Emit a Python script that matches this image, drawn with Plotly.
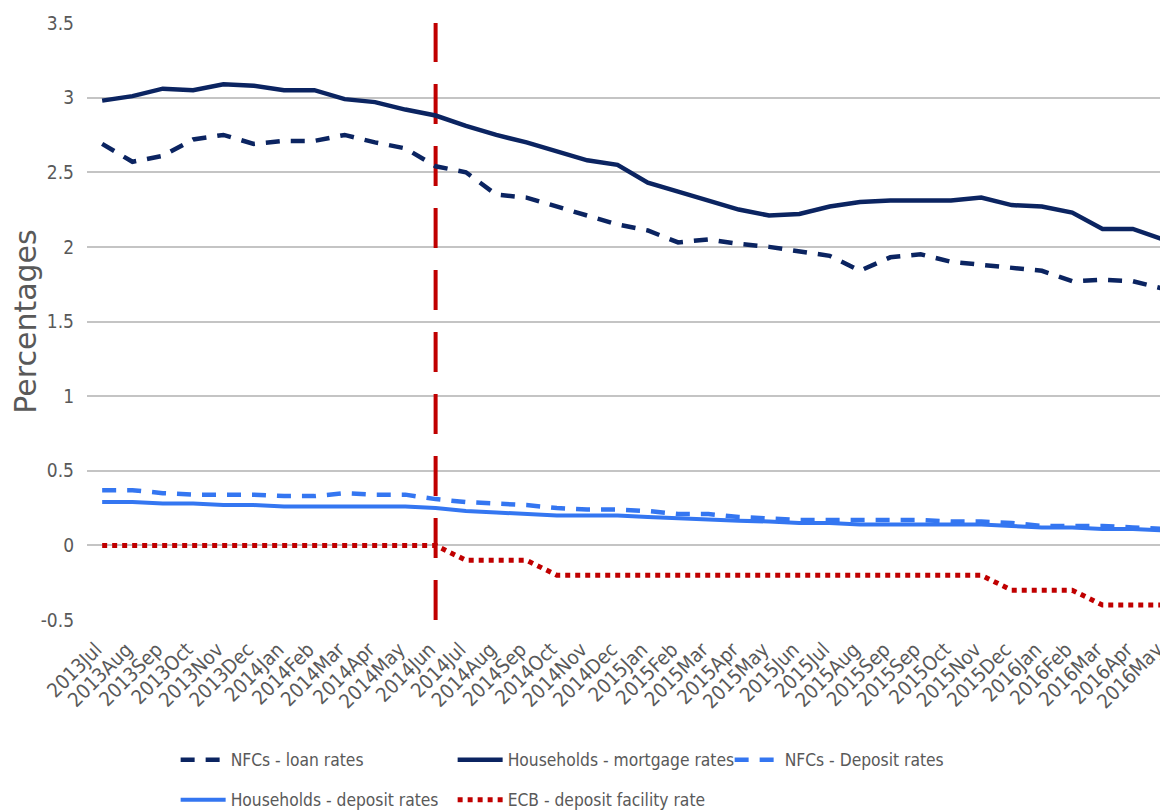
import plotly.graph_objects as go

months = ["2013Jul", "2013Aug", "2013Sep", "2013Oct", "2013Nov", "2013Dec",
          "2014Jan", "2014Feb", "2014Mar", "2014Apr", "2014May", "2014Jun",
          "2014Jul", "2014Aug", "2014Sep", "2014Oct", "2014Nov", "2014Dec",
          "2015Jan", "2015Feb", "2015Mar", "2015Apr", "2015May", "2015Jun",
          "2015Jul", "2015Aug", "2015Sep", "2015Sep", "2015Oct", "2015Nov",
          "2015Dec", "2016Jan", "2016Feb", "2016Mar", "2016Apr", "2016May"]

nfc_loan = [2.69, 2.57, 2.61, 2.72, 2.75, 2.69, 2.71, 2.71, 2.75, 2.70, 2.66, 2.54,
            2.50, 2.35, 2.33, 2.27, 2.21, 2.15, 2.11, 2.03, 2.05, 2.02, 2.00, 1.97,
            1.94, 1.84, 1.93, 1.95, 1.90, 1.88, 1.86, 1.84, 1.77, 1.78, 1.77, 1.72]
hh_mortgage = [2.98, 3.01, 3.06, 3.05, 3.09, 3.08, 3.05, 3.05, 2.99, 2.97, 2.92, 2.88,
               2.81, 2.75, 2.70, 2.64, 2.58, 2.55, 2.43, 2.37, 2.31, 2.25, 2.21, 2.22,
               2.27, 2.30, 2.31, 2.31, 2.31, 2.33, 2.28, 2.27, 2.23, 2.12, 2.12, 2.05]
nfc_deposit = [0.37, 0.37, 0.35, 0.34, 0.34, 0.34, 0.33, 0.33, 0.35, 0.34, 0.34, 0.31,
               0.29, 0.28, 0.27, 0.25, 0.24, 0.24, 0.23, 0.21, 0.21, 0.19, 0.18, 0.17,
               0.17, 0.17, 0.17, 0.17, 0.16, 0.16, 0.15, 0.13, 0.13, 0.13, 0.12, 0.11]
hh_deposit = [0.29, 0.29, 0.28, 0.28, 0.27, 0.27, 0.26, 0.26, 0.26, 0.26, 0.26, 0.25,
              0.23, 0.22, 0.21, 0.20, 0.20, 0.20, 0.19, 0.18, 0.17, 0.165, 0.16, 0.15,
              0.15, 0.14, 0.14, 0.14, 0.14, 0.14, 0.13, 0.12, 0.12, 0.11, 0.11, 0.10]
ecb_dfr = [0.0] * 12 + [-0.1] * 3 + [-0.2] * 15 + [-0.3] * 3 + [-0.4] * 3

marker_month_index = 11  # 2014Jun
y_min, y_max = -0.5, 3.5

NAVY = "#0B2461"
LBLUE = "#3476F1"
RED = "#C00000"
GREY_TXT = "#595959"
NARROW = "DejaVu Sans Condensed, Liberation Sans Narrow, Arial Narrow, sans-serif"

x = list(range(len(months)))
label_nudge = -0.2  # shift rotated labels so their end sits at the point
tick_positions = [i + label_nudge for i in x]

fig = go.Figure()

fig.add_trace(go.Scatter(x=[marker_month_index, marker_month_index], y=[y_min, y_max],
                         mode="lines", line=dict(color=RED, width=4, dash="40px,22px"),
                         showlegend=False, hoverinfo="skip"))

fig.add_trace(go.Scatter(x=x, y=nfc_loan, mode="lines", name="NFCs - loan rates",
                         line=dict(color=NAVY, width=4.5, dash="14px,11px"), legend="legend"))
fig.add_trace(go.Scatter(x=x, y=hh_mortgage, mode="lines", name="Households - mortgage rates",
                         line=dict(color=NAVY, width=4.5), legend="legend"))
fig.add_trace(go.Scatter(x=x, y=nfc_deposit, mode="lines", name="NFCs - Deposit rates",
                         line=dict(color=LBLUE, width=4.5, dash="14px,11px"), legend="legend"))
fig.add_trace(go.Scatter(x=x, y=hh_deposit, mode="lines", name="Households - deposit rates",
                         line=dict(color=LBLUE, width=4), legend="legend2"))
fig.add_trace(go.Scatter(x=x, y=ecb_dfr, mode="lines", name="ECB - deposit facility rate",
                         line=dict(color=RED, width=5, dash="5px,5px"), legend="legend2"))

legend_common = dict(orientation="h", font=dict(family=NARROW, size=17.3, color=GREY_TXT),
                     itemwidth=45, entrywidth=217, xanchor="left", yanchor="middle",
                     bgcolor="rgba(0,0,0,0)", tracegroupgap=0)

fig.update_layout(
    width=1160, height=803,
    margin=dict(l=79, r=0, t=15, b=191, autoexpand=False),
    plot_bgcolor="white", paper_bgcolor="white",
    legend=dict(x=0.082, y=-0.2345, **legend_common),
    legend2=dict(x=0.082, y=-0.3015, **legend_common),
    xaxis=dict(range=[-0.5, 35.16], tickmode="array", tickvals=tick_positions, ticktext=months,
               tickangle=-45, showgrid=False, zeroline=False, showline=False,
               automargin=False, ticklabelstandoff=13, ticklabeloverflow="allow",
               tickfont=dict(family=NARROW, size=20, color=GREY_TXT), ticks=""),
    yaxis=dict(range=[y_min, y_max], tickvals=[-0.5, 0, 0.5, 1, 1.5, 2, 2.5, 3, 3.5],
               ticktext=["-0.5", "0", "0.5", "1", "1.5", "2", "2.5", "3", "3.5"],
               showgrid=True, gridcolor="#C4C4C4", gridwidth=2, zeroline=False,
               showline=False, ticks="", ticklabelstandoff=12, automargin=False,
               tickfont=dict(family=NARROW, size=19, color=GREY_TXT),
               title=dict(text="Percentages", standoff=8,
                          font=dict(family="DejaVu Sans, sans-serif", size=30, color=GREY_TXT))),
)

fig.write_html("out.html")
